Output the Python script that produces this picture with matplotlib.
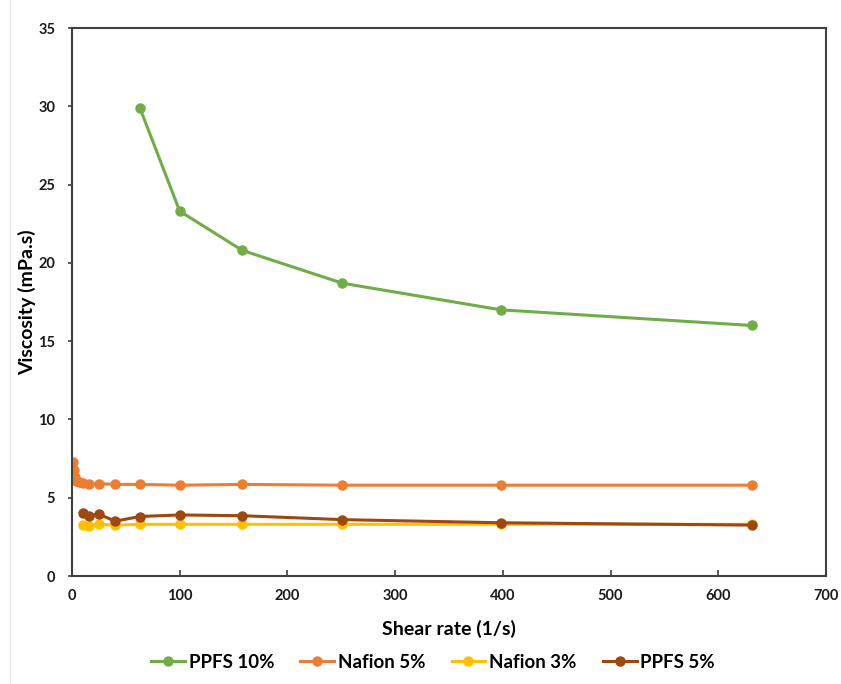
import matplotlib
matplotlib.use("Agg")
import matplotlib.pyplot as plt
from matplotlib.lines import Line2D

plt.rcParams['font.family'] = ['Lato', 'DejaVu Sans']
plt.rcParams['font.weight'] = 'bold'

# Data
x_ppfs10 = [63, 100, 158, 251, 398, 631]
y_ppfs10 = [29.9, 23.3, 20.8, 18.7, 17.0, 16.0]

x_naf5 = [1, 1.6, 2.5, 4, 6.3, 10, 16, 25, 40, 63, 100, 158, 251, 398, 631]
y_naf5 = [7.25, 6.8, 6.35, 6.05, 6.0, 5.95, 5.85, 5.9, 5.85, 5.85, 5.8, 5.85, 5.8, 5.8, 5.8]

x_naf3 = [10, 16, 25, 40, 63, 100, 158, 251, 398, 631]
y_naf3 = [3.25, 3.2, 3.3, 3.25, 3.3, 3.3, 3.3, 3.3, 3.3, 3.3]

x_ppfs5 = [10, 16, 25, 40, 63, 100, 158, 251, 398, 631]
y_ppfs5 = [4.0, 3.85, 3.95, 3.5, 3.8, 3.9, 3.85, 3.6, 3.4, 3.25]

labels = ['PPFS 10%', 'Nafion 5%', 'Nafion 3%', 'PPFS 5%']
colors = ['#70AD47', '#ED7D31', '#FFC000', '#9E480E']

fig = plt.figure(figsize=(8.41, 6.84), dpi=100)
ax = fig.add_axes([72/841, 1-576/684, (826-72)/841, (576-28)/684])

series = [(x_ppfs10, y_ppfs10), (x_naf5, y_naf5), (x_naf3, y_naf3), (x_ppfs5, y_ppfs5)]
for (xs, ys), lab, c in zip(series, labels, colors):
    ax.plot(xs, ys, color=c, lw=2.2, marker='o', ms=6.5, label=lab)

ax.set_xlim(0, 700)
ax.set_ylim(0, 35)
ax.set_xticks(range(0, 701, 100))
ax.set_yticks(range(0, 36, 5))
for s in ax.spines.values():
    s.set_color('#404040')
    s.set_linewidth(1.5)
ax.tick_params(axis='x', direction='in', length=4, width=1.2, color='#404040', pad=9, labelsize=10.5)
ax.tick_params(axis='y', direction='out', length=3, width=1.2, color='#404040', pad=9, labelsize=10.5)
for lbl in ax.get_xticklabels() + ax.get_yticklabels():
    lbl.set_fontweight('bold')
    lbl.set_color('#1a1a1a')

ax.set_xlabel('Shear rate (1/s)', fontsize=14, fontweight='bold', va='center')
ax.set_ylabel('Viscosity (mPa.s)', fontsize=14, fontweight='bold', va='center')
ax.xaxis.set_label_coords(0.5, (576 - 629) / 548)
ax.yaxis.set_label_coords((27 - 72) / 754, 0.5)

handles, labs = ax.get_legend_handles_labels()
fig.legend(handles, labs, loc='center', bbox_to_anchor=(433/841, 1-662/684), ncol=4,
           frameon=False, handlelength=1.8, columnspacing=1.4, handletextpad=0.2,
           prop={'weight': 'bold', 'size': 13.5})

fig.add_artist(Line2D([10/841, 10/841], [0, 1], color='#e6e6e6', lw=1, transform=fig.transFigure))

fig.savefig('out.png', dpi=100)
